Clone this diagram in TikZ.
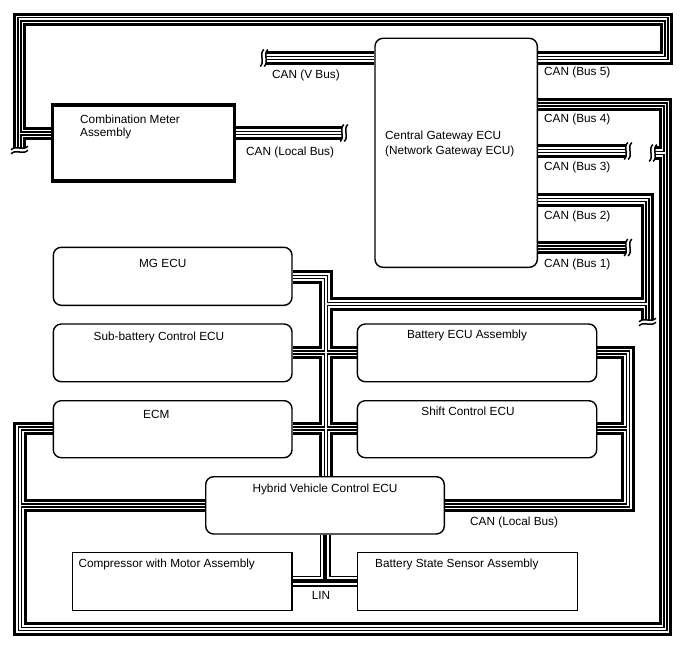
\documentclass[tikz,border=0pt]{standalone}
\usepackage{fontspec}
\setmainfont{Liberation Sans}
\pgfdeclarelayer{bg}
\pgfsetlayers{bg,main}
\tikzset{
  ecu/.style={draw, line width=1.4pt, rounded corners=8pt, fill=white, inner sep=0pt},
  plainbox/.style={draw, line width=1.1pt, fill=white, inner sep=0pt},
  meterbox/.style={draw, line width=3.3pt, fill=white, inner sep=0pt},
  txt/.style={font=\fontsize{11.8}{13.7}\selectfont, inner sep=0pt},
  canA/.style={line width=13.5pt, draw=black, line join=miter, line cap=butt},
  canB/.style={line width=7.3pt, draw=white, line join=miter, line cap=butt},
  canC/.style={line width=4.6pt, draw=black, line join=miter, line cap=butt},
  canD/.style={line width=1.8pt, draw=white, line join=miter, line cap=butt},
  linA/.style={line width=11pt, draw=black, line join=miter, line cap=butt},
  linB/.style={line width=8.8pt, draw=white, line join=miter, line cap=butt},
  linC/.style={line width=4.4pt, draw=black, line join=miter, line cap=butt},
  brk/.style={line width=1.5pt, draw=black}
}
\newcommand\canroutes[1]{%
  \draw[#1] (gw.east |- b5a) -- (b5a) -- (b5b) -- (b5c) -- (b5d);
  \draw[#1] (b5n) -- (cm.west |- b5n);
  \draw[#1] (vb) -- (gw.west |- vb);
  \draw[#1] (cm.east |- lb) -- (lb);
  \draw[#1] (gw.east |- b4a) -- (b4a) -- (b4b) -- (b4c) -- (b4d) -- (ecm.west |- b4d);
  \draw[#1] (b4e) -- (hv.west |- b4e);
  \draw[#1] (b4f) -- (b4g);
  \draw[#1] (gw.east |- b3) -- (b3);
  \draw[#1] (gw.east |- b2a) -- (b2a) -- (b2b);
  \draw[#1] (b2c) -- (b2d);
  \draw[#1] (gw.east |- b1) -- (b1);
  \draw[#1] (mg.east |- tr) -- (tr) -- (hv.north -| tr);
  \draw[#1] (sub.east |- xa) -- (bat.west |- xa);
  \draw[#1] (ecm.east |- xb) -- (shift.west |- xb);
  \draw[#1] (bat.east |- ra) -- (ra) -- (rb) -- (hv.east |- rb);
  \draw[#1] (shift.east |- rc) -- (rc);
}
\newcommand\linroutes[1]{%
  \draw[#1] (comp.east |- ln) -- (bss.west |- ln);
  \draw[#1] (hv.south -| ln) -- (ln);
}
% vertical wave across a horizontal bus end
\newcommand\brkx[2]{%
  \draw[brk] ({#1+1.8},{#2-8.5}) .. controls ({#1-3.5},{#2-3}) and ({#1+3.5},{#2+3}) .. ({#1-1.8},{#2+8.5});}
% horizontal wave across a vertical bus end
\newcommand\brky[2]{%
  \draw[brk] ({#1-8.5},{#2+1.8}) .. controls ({#1-3},{#2-3.5}) and ({#1+3},{#2+3.5}) .. ({#1+8.5},{#2-1.8});}
\begin{document}
\begin{tikzpicture}[x=1pt,y=-1pt]
\useasboundingbox (0,0) rectangle (688,658);
% boxes
\node[meterbox, minimum width=182pt, minimum height=76pt] (cm) at (143.3,143) {};
\node[ecu, minimum width=162.3pt, minimum height=229pt] (gw) at (456.15,152.8) {};
\node[ecu, minimum width=238.7pt, minimum height=58pt] (mg) at (172.65,276.3) {};
\node[ecu, minimum width=238.7pt, minimum height=57.7pt] (sub) at (172.65,352.85) {};
\node[ecu, minimum width=238.7pt, minimum height=57pt] (ecm) at (172.65,429.2) {};
\node[ecu, minimum width=239.4pt, minimum height=57.7pt] (bat) at (477,352.85) {};
\node[ecu, minimum width=239.4pt, minimum height=57pt] (shift) at (477,429.2) {};
\node[ecu, minimum width=238.6pt, minimum height=57.3pt] (hv) at (325,505.35) {};
\node[plainbox, minimum width=219.7pt, minimum height=58pt] (comp) at (182.15,581.7) {};
\node[plainbox, minimum width=220pt, minimum height=58pt] (bss) at (467.3,581.7) {};
% junction coordinates
\coordinate (b5a) at (666.5,58);
\coordinate (b5b) at (666.5,19.3);
\coordinate (b5c) at (19.5,19.3);
\coordinate (b5d) at (19.5,148);
\coordinate (b5n) at (19.5,133.5);
\coordinate (vb) at (266,58);
\coordinate (lb) at (342,133);
\coordinate (b4a) at (665.5,104.5);
\coordinate (b4b) at (665.5,629);
\coordinate (b4c) at (20,629);
\coordinate (b4d) at (20,428.5);
\coordinate (b4e) at (20,505.5);
\coordinate (b4f) at (665.5,153);
\coordinate (b4g) at (655,153);
\coordinate (b3) at (626,151);
\coordinate (b2a) at (647.5,200);
\coordinate (b2b) at (647.5,320);
\coordinate (b2c) at (326,304);
\coordinate (b2d) at (647.5,304);
\coordinate (b1) at (626,247.5);
\coordinate (tr) at (326,277);
\coordinate (xa) at (326,352.5);
\coordinate (xb) at (326,428.5);
\coordinate (ra) at (628,352.5);
\coordinate (rb) at (628,505.5);
\coordinate (rc) at (628,428.5);
\coordinate (ln) at (325,581);
% buses
\begin{pgfonlayer}{bg}
\canroutes{canA}
\canroutes{canB}
\canroutes{canC}
\canroutes{canD}
\linroutes{linA}
\linroutes{linB}
\linroutes{linC}
\end{pgfonlayer}
% break marks
\brkx{266}{58}\brkx{262}{58}
\brkx{342}{133}\brkx{346}{133}
\brky{19.5}{148}\brky{19.5}{152}
\brkx{626}{151}\brkx{630}{151}
\brkx{626}{247.5}\brkx{630}{247.5}
\brkx{655}{153}\brkx{651}{153}
\brky{647.5}{320}\brky{647.5}{324}
% texts
\node[txt, anchor=base west] at (80,123.3) {Combination Meter};
\node[txt, anchor=base west] at (80,137) {Assembly};
\node[txt, anchor=base west] at (272,79) {CAN (V Bus)};
\node[txt, anchor=base west] at (246,156) {CAN (Local Bus)};
\node[txt, anchor=base west] at (385,139.3) {Central Gateway ECU};
\node[txt, anchor=base west] at (385,154.3) {(Network Gateway ECU)};
\node[txt, anchor=base west] at (544,75.5) {CAN (Bus 5)};
\node[txt, anchor=base west] at (544,123) {CAN (Bus 4)};
\node[txt, anchor=base west] at (544,171) {CAN (Bus 3)};
\node[txt, anchor=base west] at (544,219) {CAN (Bus 2)};
\node[txt, anchor=base west] at (544,267) {CAN (Bus 1)};
\node[txt, anchor=base] at (162.7,267.3) {MG ECU};
\node[txt, anchor=base] at (159,340) {Sub-battery Control ECU};
\node[txt, anchor=base] at (156.3,418.3) {ECM};
\node[txt, anchor=base] at (467,338) {Battery ECU Assembly};
\node[txt, anchor=base] at (468,415) {Shift Control ECU};
\node[txt, anchor=base] at (325,492) {Hybrid Vehicle Control ECU};
\node[txt, anchor=base west] at (470,525) {CAN (Local Bus)};
\node[txt, anchor=base west] at (78.3,567) {Compressor with Motor Assembly};
\node[txt, anchor=base west] at (375,567) {Battery State Sensor Assembly};
\node[txt, anchor=base west] at (311.7,599.3) {LIN};
\end{tikzpicture}
\end{document}
